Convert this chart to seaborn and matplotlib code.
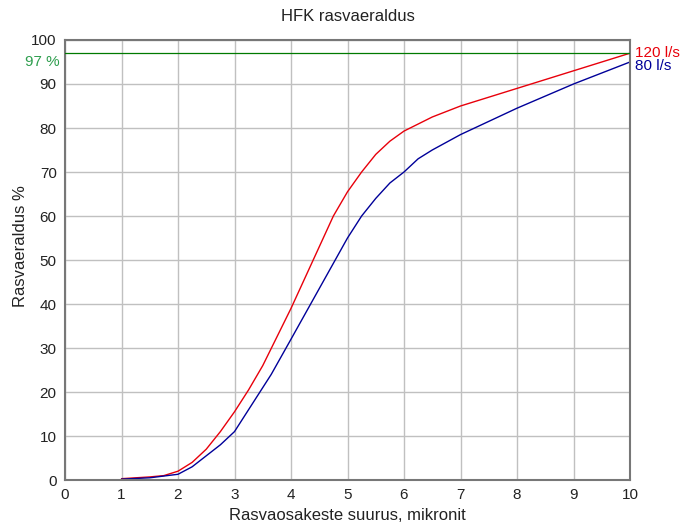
import matplotlib
matplotlib.use("Agg")
import matplotlib.pyplot as plt
import seaborn as sns
import pandas as pd

sns.set_theme(style="white")
plt.rcParams['font.family'] = ['Liberation Sans', 'DejaVu Sans']

x_red = [1, 1.5, 1.75, 2, 2.25, 2.5, 2.75, 3, 3.25, 3.5, 3.75, 4, 4.25, 4.5, 4.75, 5, 5.25, 5.5, 5.75, 6, 6.5, 7, 8, 9, 10]
y_red = [0.3, 0.7, 1.0, 2.0, 4.0, 7.0, 11.0, 15.5, 20.5, 26.0, 32.5, 39.0, 46.0, 53.0, 60.0, 65.5, 70.0, 74.0, 77.0, 79.3, 82.5, 85.0, 89.0, 93.0, 97.0]
x_blue = [1, 1.5, 2, 2.25, 2.5, 2.75, 3, 3.25, 3.5, 3.65, 4, 4.5, 5, 5.25, 5.5, 5.75, 6, 6.25, 6.5, 7, 8, 9, 10]
y_blue = [0.2, 0.5, 1.3, 3.0, 5.5, 8.0, 11.0, 16.0, 21.0, 24.0, 32.0, 43.5, 55.0, 60.0, 64.0, 67.5, 70.0, 73.0, 75.0, 78.5, 84.5, 90.0, 95.0]
level = 97
labels = ["120 l/s", "80 l/s"]
title = "HFK rasvaeraldus"
xlabel = "Rasvaosakeste suurus, mikronit"
ylabel = "Rasvaeraldus %"

df = pd.concat([
    pd.DataFrame({"x": x_red, "y": y_red, "s": labels[0]}),
    pd.DataFrame({"x": x_blue, "y": y_blue, "s": labels[1]}),
])

fig = plt.figure(figsize=(6.88, 5.22), dpi=100)
ax = fig.add_axes([65/688, 42/522, 565/688, 440/522])
colors = {labels[0]: "#e8000b", labels[1]: "#000099"}
sns.lineplot(data=df, x="x", y="y", hue="s", palette=colors, legend=False, ax=ax, linewidth=1.0, sort=False)
ax.axhline(level, color="#007a00", linewidth=0.9, zorder=3)

ax.set_xlim(0, 10)
ax.set_ylim(0, 100)
ax.set_xticks(range(0, 11))
ax.set_yticks(range(0, 101, 10))
ax.grid(True, color="#c0c0c0", linewidth=1.0)
for sp in ax.spines.values():
    sp.set_color("#777777")
    sp.set_linewidth(1.5)
ax.tick_params(axis="both", labelsize=11, colors="#222222", length=0, pad=6)
ax.tick_params(axis="y", length=3, width=0.8, color="#777777", pad=3)
ax.set_xlabel(xlabel, fontsize=12, color="#222222", labelpad=4)
ax.set_ylabel(ylabel, fontsize=12, color="#222222")
ax.yaxis.set_label_coords(-0.066, 0.532)
ax.set_title(title, fontsize=12, color="#222222", pad=14)

ax.text(-0.1, level - 2, "97 %", color="#2e9e4e", fontsize=11, ha="right", va="center", clip_on=False)
ax.text(10.08, y_red[-1], labels[0], color="#e8000b", fontsize=11, ha="left", va="center", clip_on=False)
ax.text(10.08, y_blue[-1] - 1, labels[1], color="#000099", fontsize=11, ha="left", va="center", clip_on=False)

fig.savefig("out.png", dpi=100)
